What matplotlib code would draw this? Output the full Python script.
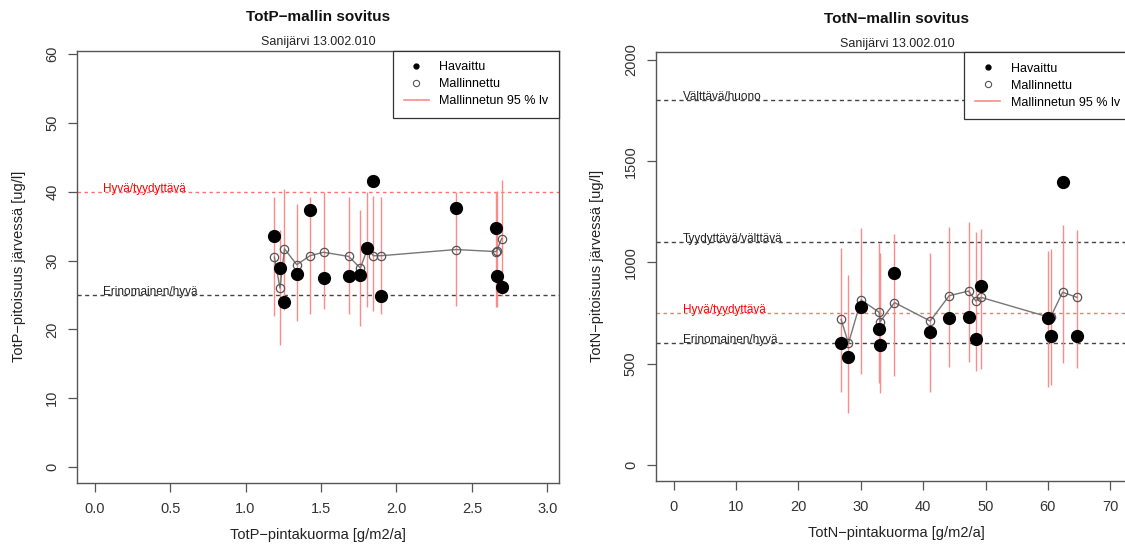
import matplotlib
matplotlib.use('Agg')
import matplotlib.pyplot as plt
from matplotlib.lines import Line2D
import numpy as np

plt.rcParams['font.family'] = ['Liberation Sans', 'DejaVu Sans']

lake = 'Sanijärvi 13.002.010'

# TotP: surface load, observed, modelled and 95 % interval of the model
p_load = [1.191, 1.228, 1.258, 1.339, 1.427, 1.517, 1.683, 1.761, 1.807, 1.847, 1.898, 2.395, 2.660, 2.664, 2.697]
p_obs = [33.5, 28.9, 23.9, 28.0, 37.3, 27.5, 27.8, 27.9, 31.8, 41.5, 24.8, 37.6, 34.7, 27.8, 26.2]
p_mod = [30.5, 26.0, 31.7, 29.4, 30.7, 31.2, 30.6, 28.9, 31.7, 30.7, 30.7, 31.6, 31.3, 31.4, 33.2]
p_lo = [22.0, 17.7, 22.8, 21.2, 22.3, 22.9, 22.3, 20.5, 23.3, 22.6, 22.3, 23.4, 23.2, 23.3, 24.9]
p_hi = [39.2, 34.5, 40.4, 38.2, 39.3, 39.9, 39.2, 37.3, 40.0, 39.4, 39.2, 40.0, 40.0, 40.1, 41.7]
p_limits = [40, 25]
p_limit_names = ['Hyvä/tyydyttävä', 'Erinomainen/hyvä']

# TotN
n_load = [26.84, 28.02, 30.05, 32.94, 33.10, 35.40, 41.12, 44.17, 47.27, 48.45, 49.25, 59.94, 60.48, 62.35, 64.65]
n_obs = [604, 535, 779, 672, 593, 947, 655, 728, 729, 622, 886, 728, 639, 1396, 637]
n_mod = [719, 601, 815, 754, 708, 802, 711, 836, 859, 810, 828, 732, 733, 853, 828]
n_lo = [362, 255, 449, 403, 354, 441, 362, 482, 507, 466, 474, 387, 395, 502, 481]
n_hi = [1070, 938, 1169, 1098, 1048, 1141, 1045, 1177, 1198, 1151, 1165, 1058, 1065, 1185, 1161]
n_limits = [1800, 1100, 750, 600]
n_limit_names = ['Välttävä/huono', 'Tyydyttävä/välttävä', 'Hyvä/tyydyttävä', 'Erinomainen/hyvä']

AX_COL = '#555555'
CI_COL = '#ff8a8a'


def fit_panel(ax, load, obs, mod, lo, hi, limits, names, title, xlabel, ylabel,
              xlim, ylim, xticks, yticks, xfmt, label_x, leg_x):
    ax.set_xlim(*xlim)
    ax.set_ylim(*ylim)

    for val, name in zip(limits, names):
        good_line = name == 'Hyvä/tyydyttävä'
        col = '#ff7070' if good_line else '#444444'
        ls = (0, (2.5, 2.5)) if good_line else (0, (3, 2.5))
        ax.axhline(val, color=col, lw=1.0, ls=ls, zorder=1)
        ax.text(label_x, val, name, fontsize=8.5, va='baseline', ha='left',
                color='#ff0000' if good_line else '#222222', zorder=2)

    ax.vlines(load, lo, hi, color=CI_COL, lw=1.0, zorder=3)
    ax.plot(load, mod, color='#777777', lw=1.0, marker='o', mfc='none',
            mec='#555555', mew=0.9, ms=6, zorder=4)
    ax.plot(load, obs, ls='', marker='o', color='black', ms=8.5, zorder=5)

    ax.set_xticks(xticks)
    ax.set_xticklabels([xfmt.format(t) for t in xticks])
    ax.set_yticks(yticks)
    ax.set_yticklabels([str(t) for t in yticks], rotation=90, va='center')
    ax.tick_params(length=6.5, width=0.9, color=AX_COL, labelsize=10.5,
                   labelcolor='#333333')
    ax.tick_params(axis='x', pad=7.5)
    ax.tick_params(axis='y', pad=6.5)
    for s in ax.spines.values():
        s.set_color(AX_COL)
        s.set_linewidth(1.0)

    ax.set_xlabel(xlabel, fontsize=10.5, labelpad=8.5, color='#222222')
    ax.set_ylabel(ylabel, fontsize=10.5, labelpad=14, color='#222222')

    ax.annotate(title, (0.5, 1), xycoords='axes fraction', xytext=(0, 24),
                textcoords='offset points', ha='center', va='center',
                fontsize=11, fontweight='bold', color='#111111')
    ax.annotate(lake, (0.5, 1), xycoords='axes fraction', xytext=(0, 6),
                textcoords='offset points', ha='center', va='center',
                fontsize=9, color='#222222')

    handles = [
        Line2D([], [], ls='', marker='o', color='black', ms=3.5),
        Line2D([], [], ls='', marker='o', mfc='none', mec='#555555', ms=4.5, mew=0.8),
        Line2D([], [], color=CI_COL, lw=1.2),
    ]
    leg = ax.legend(handles, ['Havaittu', 'Mallinnettu', 'Mallinnetun 95 % lv'],
                    loc='upper right', bbox_to_anchor=(leg_x, 1), borderaxespad=0,
                    fontsize=9, frameon=True, fancybox=False, framealpha=1,
                    edgecolor='#333333', handlelength=2.0, handletextpad=0.85,
                    labelspacing=0.4, borderpad=0.85)
    leg.get_frame().set_linewidth(0.9)
    leg.set_zorder(10)


fig = plt.figure(figsize=(11.25, 5.52), dpi=100)
ax1 = fig.add_axes([0.0687, 0.1255, 0.4282, 0.7826])
ax2 = fig.add_axes([0.5831, 0.1292, 0.4282, 0.7766])

fit_panel(ax1, p_load, p_obs, p_mod, p_lo, p_hi, p_limits, p_limit_names,
          'TotP−mallin sovitus', 'TotP−pintakuorma [g/m2/a]',
          'TotP−pitoisuus järvessä [ug/l]',
          (-0.115, 3.077), (-2.3, 60.5), [0, 0.5, 1, 1.5, 2, 2.5, 3],
          [0, 10, 20, 30, 40, 50, 60], '{:.1f}', 0.057, 1.0)

fit_panel(ax2, n_load, n_obs, n_mod, n_lo, n_hi, n_limits, n_limit_names,
          'TotN−mallin sovitus', 'TotN−pintakuorma [g/m2/a]',
          'TotN−pitoisuus järvessä [ug/l]',
          (-2.84, 74.4), (-77.5, 2039.5), [0, 10, 20, 30, 40, 50, 60, 70],
          [0, 500, 1000, 1500, 2000], '{:.0f}', 1.5, 0.985)

fig.savefig('out.png', dpi=100)
plt.close(fig)
